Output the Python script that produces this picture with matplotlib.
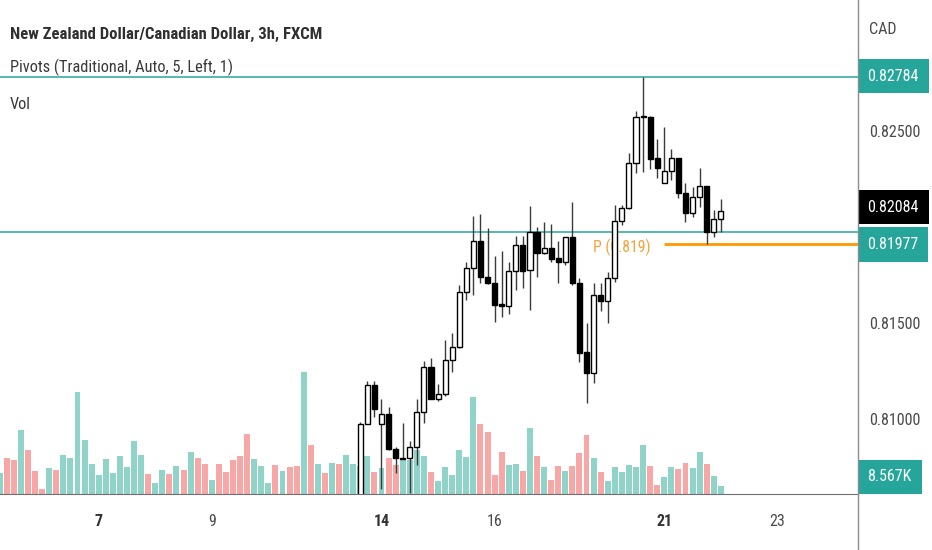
import matplotlib
matplotlib.use('Agg')
import numpy as np
import matplotlib.pyplot as plt
from matplotlib import font_manager
from matplotlib.lines import Line2D

# ---- data (3h bars, index 0 = first bar on screen) ----
title = 'New Zealand Dollar/Canadian Dollar, 3h, FXCM'
subtitle = 'Pivots (Traditional, Auto, 5, Left, 1)'

# volume in thousands
volumes = [22.5, 38.8, 36.1, 68.8, 47.1, 24.9, 5.7, 27.5, 26.0, 42.1,
           38.5, 109.1, 58.1, 32.4, 20.0, 37.1, 22.5, 41.0, 28.6, 56.7,
           42.1, 21.4, 11.4, 26.0, 21.4, 30.0, 26.0, 44.6, 38.5, 32.4,
           15.3, 32.4, 23.9, 36.1, 41.0, 64.2, 37.1, 30.3, 11.8, 31.4,
           24.9, 28.9, 30.3, 130.2, 52.1, 32.4, 22.8, 33.5, 32.4, 42.1,
           32.4, 30.0, 41.0, 23.9, 27.5, 38.5, 30.7, 36.7, 36.7, 47.4,
           41.0, 23.9, 14.2, 28.9, 20.3, 47.1, 39.9, 104.1, 75.2, 66.3,
           20.3, 44.6, 31.0, 32.4, 24.9, 70.3, 41.0, 28.6, 15.3, 30.3,
           24.9, 30.3, 43.5, 62.8, 38.5, 23.9, 14.2, 28.9, 23.9, 31.0,
           28.6, 52.1, 30.3, 9.3, 17.9, 28.9, 26.4, 33.5, 27.5, 44.6,
           32.4, 18.9, 8.567]
# direction of the bars whose candles are below the visible range
early_dir = ('uddudddudu' 'uuuuuuuuuu' 'uduudududd' 'uddddduuud' 'uddudududuu')

candle_start = 51
opens = [0.80500, 0.80972, 0.81176, 0.80972, 0.81023, 0.80841, 0.80790, 0.80793, 0.80853, 0.81036,
         0.81271, 0.81102, 0.81127, 0.81306, 0.81376, 0.81663, 0.81785, 0.81929, 0.81738, 0.81710,
         0.81599, 0.81588, 0.81771, 0.81907, 0.81776, 0.81976, 0.81863, 0.81889, 0.81837, 0.81819,
         0.81947, 0.81710, 0.81346, 0.81240, 0.81646, 0.81614, 0.81733, 0.82032, 0.82098, 0.82336,
         0.82574, 0.82577, 0.82359, 0.82229, 0.82293, 0.82359, 0.82180, 0.82075, 0.82156, 0.82215,
         0.81976, 0.82041]
closes = [0.80972, 0.81176, 0.81049, 0.81023, 0.80841, 0.80793, 0.80796, 0.80853, 0.81036, 0.81271,
          0.81102, 0.81127, 0.81306, 0.81376, 0.81663, 0.81785, 0.81929, 0.81738, 0.81707, 0.81593,
          0.81588, 0.81771, 0.81907, 0.81771, 0.81976, 0.81863, 0.81889, 0.81834, 0.81819, 0.81947,
          0.81710, 0.81344, 0.81240, 0.81646, 0.81614, 0.81733, 0.82032, 0.82098, 0.82336, 0.82574,
          0.82579, 0.82354, 0.82307, 0.82293, 0.82359, 0.82177, 0.82075, 0.82156, 0.82215, 0.81976,
          0.82041, 0.82084]
highs = [0.80985, 0.81198, 0.81198, 0.81102, 0.81059, 0.80853, 0.80979, 0.80885, 0.81102, 0.81301,
         0.81318, 0.81179, 0.81411, 0.81446, 0.81698, 0.81819, 0.82058, 0.82069, 0.81994, 0.81849,
         0.81877, 0.81819, 0.81954, 0.81954, 0.82110, 0.82002, 0.82028, 0.82015, 0.81929, 0.81950,
         0.82133, 0.81733, 0.81501, 0.81707, 0.81707, 0.81767, 0.82116, 0.82116, 0.82389, 0.82608,
         0.82784, 0.82580, 0.82459, 0.82524, 0.82406, 0.82360, 0.82232, 0.82211, 0.82310, 0.82216,
         0.82089, 0.82145]
lows = [0.80450, 0.80970, 0.81010, 0.80631, 0.80836, 0.80718, 0.80788, 0.80613, 0.80758, 0.80979,
        0.81100, 0.81094, 0.81120, 0.81245, 0.81370, 0.81619, 0.81646, 0.81707, 0.81705, 0.81506,
        0.81532, 0.81546, 0.81672, 0.81681, 0.81567, 0.81741, 0.81860, 0.81819, 0.81710, 0.81802,
        0.81698, 0.81297, 0.81080, 0.81184, 0.81564, 0.81498, 0.81715, 0.82011, 0.82095, 0.82281,
        0.82289, 0.82302, 0.82255, 0.82229, 0.82246, 0.82150, 0.82028, 0.82054, 0.82107, 0.81912,
        0.81950, 0.81976]

upper_line = 0.82784
lower_line = 0.81977
pivot_p = 0.8191
pivot_start = 94
last_price = 0.82084

price_ticks = [0.81000, 0.81500, 0.82500]
day_pos = [14, 30, 54, 70, 94, 110]
day_labels = ['7', '9', '14', '16', '21', '23']
day_bold = [True, False, True, False, True, False]

# ---- fonts ----
names = {f.name for f in font_manager.fontManager.ttflist}
FONT = 'DejaVu Sans'
for cand in ['Liberation Sans Narrow', 'Roboto Condensed', 'Open Sans Condensed', 'Liberation Sans']:
    if cand in names:
        FONT = cand
        break
plt.rcParams['font.family'] = [FONT, 'DejaVu Sans']

W, H = 932, 550
fig = plt.figure(figsize=(W / 100, H / 100), dpi=100)
renderer = fig.canvas.get_renderer()


def fit(s, px, weight='normal'):
    # font size that makes the string about px pixels wide
    t = fig.text(0, 0, s, fontsize=10, weight=weight)
    w = t.get_window_extent(renderer=renderer).width
    t.remove()
    return 10 * px / w


title_fs = fit(title, 310, 'semibold')
sub_fs = fit(subtitle, 222)
axis_fs = fit('0.82500', 51)
pivot_fs = fit('P (0.819)', 57)

teal = '#26a69a'
vol_up, vol_dn = '#8fd3c9', '#f7a8a6'
txt = '#4a4a4a'

rect = [0, 56 / H, 858 / W, 494 / H]
vax = fig.add_axes(rect)
ax = fig.add_axes(rect, sharex=vax)
ax.patch.set_visible(False)

# volume
o = np.array(opens)
c = np.array(closes)
dirs = list(early_dir) + ['u' if cc >= oo else 'd' for oo, cc in zip(o, c)]
vcol = [vol_up if d == 'u' else vol_dn for d in dirs]
xv = np.arange(len(volumes))
vax.bar(xv, volumes, width=0.84, color=vcol, linewidth=0)
vax.set_ylim(0, 529)
vax.set_axis_off()

# candles
xc = np.arange(candle_start, candle_start + len(opens))
ax.vlines(xc, lows, highs, color='#3a3a3a', lw=1, zorder=3)
up = c >= o
ax.bar(xc, np.abs(c - o), bottom=np.minimum(o, c), width=0.72,
       color=np.where(up, 'white', 'black'), edgecolor='black', linewidth=1, zorder=4)

ax.set_xlim(0.04, 121.4)
ax.set_ylim(0.806065, 0.831862)

ax.axhline(upper_line, color=teal, lw=1.1, zorder=2)
ax.axhline(lower_line, color=teal, lw=1.1, zorder=2)
ax.hlines(pivot_p, pivot_start, 121.4, color='#ff9800', lw=2, zorder=2)
ax.text(92.0, pivot_p - 0.00014, 'P (0.819)', color='#f7a13a', ha='right', va='center',
        fontsize=pivot_fs, zorder=2.5)

for s in ['top', 'left', 'right']:
    ax.spines[s].set_visible(False)
ax.spines['bottom'].set_color('#707070')
ax.set_xticks([])
ax.yaxis.tick_right()
ax.set_yticks(price_ticks)
ax.set_yticklabels([f'{p:.5f}' for p in price_ticks])
ax.tick_params(axis='y', length=0, pad=11 * 0.72, labelsize=axis_fs, labelcolor=txt)

for pos, lab, b in zip(day_pos, day_labels, day_bold):
    ax.text(pos, -28 / 494, lab, transform=ax.get_xaxis_transform(), ha='center', va='center',
            fontsize=axis_fs, color='#333333' if b else txt, weight='bold' if b else 'normal')

PAD = 0.6


def tag(axes, y, s, bg, dy):
    axes.annotate(s, xy=(1, y), xycoords=('axes fraction', 'data'), xytext=(PAD * axis_fs, dy * 0.72),
                  textcoords='offset points', ha='left', va='center', color='white', fontsize=axis_fs,
                  bbox=dict(boxstyle=f'square,pad={PAD}', fc=bg, ec='none'), annotation_clip=False, zorder=10)


tag(ax, upper_line, '0.82784', teal, 1)
tag(ax, last_price, '0.82084', 'black', 4)
tag(ax, lower_line, '0.81977', teal, -13)
tag(vax, volumes[-1], '8.567K', teal, 9)

fig.text(10 / W, 1 - 39 / H, title, fontsize=title_fs, weight='semibold', color='#2f2f2f', va='baseline')
fig.text(10 / W, 1 - 72.5 / H, subtitle, fontsize=sub_fs, color='#3a3a3a', va='baseline')
fig.text(10 / W, 1 - 109 / H, 'Vol', fontsize=sub_fs, color='#3a3a3a', va='baseline')
fig.text(869 / W, 1 - 34 / H, 'CAD', fontsize=axis_fs, color=txt, va='baseline')

fig.add_artist(Line2D([858 / W, 858 / W], [0, 1], transform=fig.transFigure, color='#8c8c8c', lw=1))

fig.savefig('out.png', dpi=100)
